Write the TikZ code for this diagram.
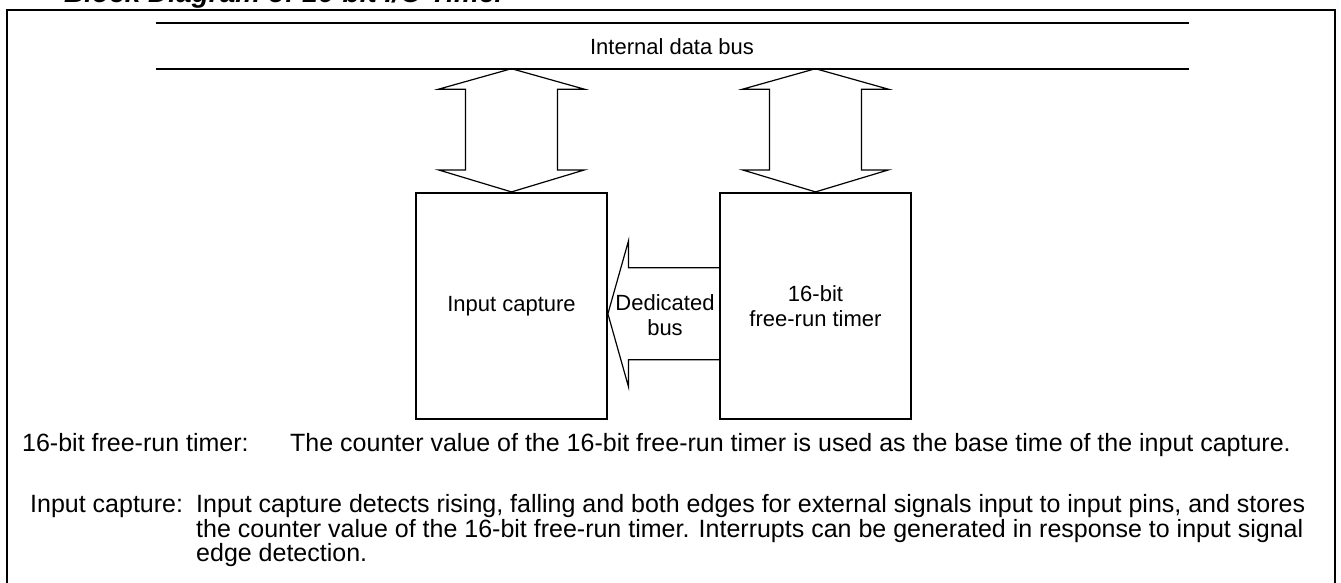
\documentclass[tikz,border=0pt]{standalone}
\usepackage{fontspec}
\setmainfont{Liberation Sans}
\usetikzlibrary{calc}
\begin{document}
\begin{tikzpicture}[x=1pt,y=-1pt,
  txt/.style={inner sep=0pt,font=\fontsize{22}{25}\selectfont},
  desc/.style={inner sep=0pt,anchor=base west,font=\fontsize{25}{25}\selectfont},
  blk/.style={draw,line width=1.8pt,minimum width=191pt,minimum height=226pt,inner sep=0pt,align=center,font=\fontsize{22}{25}\selectfont},
  barrow/.style={draw,line width=1.2pt,line join=miter},
  busline/.style={line width=2pt},
  frame/.style={line width=2.2pt}]
\useasboundingbox (0,0) rectangle (1341,582);
% frame and title
\draw[frame] (7.3,600) -- (7.3,10.3) -- (1335,10.3) -- (1335,600);
\node[anchor=base west,inner sep=0pt,font=\fontsize{28}{30}\selectfont\bfseries\itshape] (title) at (64,2) {Block Diagram of 16-bit I/O Timer};
% internal bus
\coordinate (busTL) at (156,23.3);
\coordinate (busTR) at (1189,23.3);
\coordinate (busBL) at (156,69);
\coordinate (busBR) at (1189,69);
\draw[busline] (busTL) -- (busTR);
\draw[busline] (busBL) -- (busBR);
\node[txt] (buslabel) at (672,47) {Internal data bus};
% blocks
\node[blk] (ic) at (511.5,305.8) {Input capture};
\node[blk] (frt) at (815.5,305.8) {16-bit\\free-run timer};
% bus arrows
\foreach \b in {ic,frt}{
  \draw[barrow] (\b.north) -- ++(-73,-22) -- ++(27,0) -- ++(0,-80.7) -- ++(-27,0) -- ++(73,-20.5)
     -- ++(73,20.5) -- ++(-27,0) -- ++(0,80.7) -- ++(27,0) -- cycle;
}
% dedicated bus arrow
\coordinate (tip) at ($(ic.east)+(0,8)$);
\draw[barrow] ($(frt.west)+(0,-38)$) -- ($(tip)+(20.6,-46)$) -- ($(tip)+(20.6,-73)$) -- (tip)
   -- ($(tip)+(20.6,73)$) -- ($(tip)+(20.6,46)$) -- ($(frt.west)+(0,54)$);
\node[txt,align=center] (ded) at (665,315) {Dedicated\\bus};
% descriptions
\node[desc] (l1a) at (22,451) {16-bit free-run timer:};
\node[desc] (l1b) at (290,451) {The counter value of the 16-bit free-run timer is used as the base time of the input capture.};
\node[desc] (l2a) at (30,512) {Input capture:};
\node[desc] (l2b) at (196,512) {Input capture detects rising, falling and both edges for external signals input to input pins, and stores};
\node[desc] (l3b) at (196,537) {the counter value of the 16-bit free-run timer. Interrupts can be generated in response to input signal};
\node[desc] (l4b) at (196,561) {edge detection.};
\end{tikzpicture}
\end{document}
